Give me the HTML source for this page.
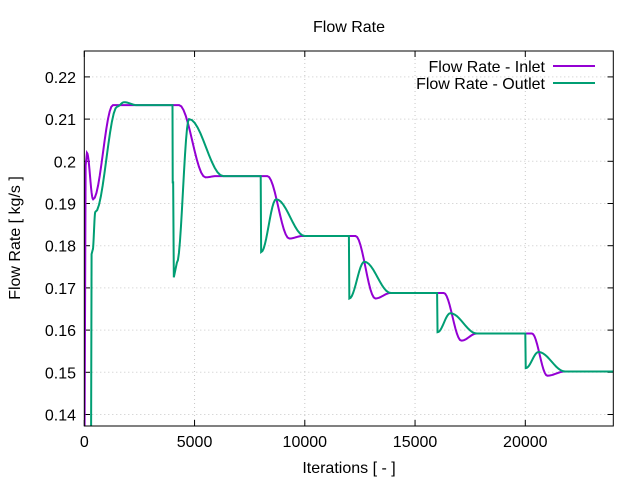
<!DOCTYPE html>
<html><head><meta charset="utf-8"><style>
body{margin:0;background:#fff}
svg text{font-family:"Liberation Sans",sans-serif;font-size:16px;fill:#000}
</style></head><body>
<svg id="s" width="640" height="480" xmlns="http://www.w3.org/2000/svg">
<rect width="640" height="480" fill="#fff"/>
<g id="grid" stroke="#c8c8c8" stroke-width="1" stroke-dasharray="1,3"></g>
<g id="ticks" stroke="#000" stroke-width="1"></g>
<g id="labels"></g>
<text x="349" y="32" text-anchor="middle">Flow Rate</text>
<text x="349" y="473" text-anchor="middle">Iterations [ - ]</text>
<text transform="translate(20,238) rotate(-90)" text-anchor="middle">Flow Rate [ kg/s ]</text>
<text x="545" y="72" text-anchor="end">Flow Rate - Inlet</text>
<text x="545" y="89" text-anchor="end">Flow Rate - Outlet</text>
<line x1="553" y1="66" x2="595" y2="66" stroke="#9400d3" stroke-width="2"/>
<line x1="553" y1="83" x2="595" y2="83" stroke="#009e73" stroke-width="2"/>
<clipPath id="c"><rect x="84.3" y="51" width="529" height="375"/></clipPath>
<g clip-path="url(#c)">
<path id="pi" fill="none" stroke="#9400d3" stroke-width="2"/>
<path id="po" fill="none" stroke="#009e73" stroke-width="2"/>
</g>
<rect x="84.3" y="51" width="529" height="375" fill="none" stroke="#000" stroke-width="1"/>
</svg>
<script>
const X=i=>84.3+i*0.02205, Y=v=>161.3-(v-0.2)*4220;
const ns="http://www.w3.org/2000/svg";
function el(p,t,a,txt){const e=document.createElementNS(ns,t);for(const k in a)e.setAttribute(k,a[k]);if(txt)e.textContent=txt;document.getElementById(p).appendChild(e);}
for(let v=0.14;v<0.2255;v+=0.01){const y=Y(v);
 el('grid','line',{x1:84.3,x2:613.3,y1:y,y2:y});
 el('ticks','line',{x1:84.3,x2:90,y1:y,y2:y});el('ticks','line',{x1:607.5,x2:613.3,y1:y,y2:y});
 el('labels','text',{x:76,y:y+6,'text-anchor':'end'},(Math.round(v*100)/100).toString());}
for(let i=0;i<=20000;i+=5000){const x=X(i);
 if(i>0)el('grid','line',{x1:x,x2:x,y1:51,y2:426});
 el('ticks','line',{x1:x,x2:x,y1:426,y2:420});el('ticks','line',{x1:x,x2:x,y1:51,y2:57});
 el('labels','text',{x:x,y:447,'text-anchor':'middle'},String(i));}
function path(k){let d='';for(let j=0;j<k.length-1;j++){const [a,va,m]=k[j],[b,vb]=k[j+1];
 const n=m==='l'?1:12;for(let s=0;s<=n;s++){const t=s/n;const f=m==='l'?t:(1-Math.cos(Math.PI*t))/2;
 d+=(d?'L':'M')+X(a+(b-a)*t).toFixed(2)+','+Y(va+(vb-va)*f).toFixed(2);}}return d;}
const inl=[[0,0.12,'l'],[60,0.199,'l'],[120,0.202],[400,0.191],[1300,0.2133],[4300,0.2133],[5500,0.1962],[6000,0.1965],[8300,0.1965],[9300,0.1817],[9900,0.1823],[12300,0.1823],[13200,0.1675],[13900,0.1688],[16300,0.1688],[17100,0.1575],[17800,0.1592],[20300,0.1592],[21000,0.1492],[21800,0.1502],[24500,0.1502]];
const out=[[300,0.12,'l'],[330,0.178,'l'],[380,0.179],[500,0.188],[1500,0.213],[1800,0.214],[2400,0.2133],[4000,0.2133,'l'],[4010,0.195,'l'],[4030,0.195,'l'],[4060,0.1725,'l'],[4200,0.176],[4750,0.21],[6300,0.1965],[8000,0.1965,'l'],[8020,0.1785],[8700,0.191],[10000,0.1823],[12000,0.1823,'l'],[12020,0.1675],[12700,0.1762],[13900,0.1688],[16000,0.1688,'l'],[16020,0.1595],[16600,0.164],[17800,0.1592],[20000,0.1592,'l'],[20020,0.151],[20600,0.1548],[21800,0.1502],[24500,0.1502]];
document.getElementById('pi').setAttribute('d',path(inl));
document.getElementById('po').setAttribute('d',path(out));
</script>
</body></html>
